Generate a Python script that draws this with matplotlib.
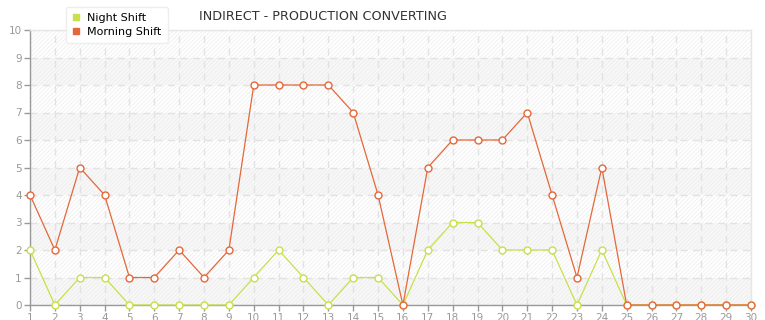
import matplotlib
matplotlib.use("Agg")
import matplotlib.pyplot as plt
from matplotlib.lines import Line2D

days = list(range(1, 31))
night_shift = [2, 0, 1, 1, 0, 0, 0, 0, 0, 1, 2, 1, 0, 1, 1, 0, 2, 3, 3, 2, 2, 2, 0, 2, 0, 0, 0, 0, 0, 0]
morning_shift = [4, 2, 5, 4, 1, 1, 2, 1, 2, 8, 8, 8, 8, 7, 4, 0, 5, 6, 6, 6, 7, 4, 1, 5, 0, 0, 0, 0, 0, 0]
series_names = ["Night Shift", "Morning Shift"]
title = "INDIRECT - PRODUCTION CONVERTING"

night_color = "#c8e04a"
morning_color = "#e4683a"
tick_color = "#999999"

plt.rcParams["hatch.color"] = "#ededed"
plt.rcParams["hatch.linewidth"] = 0.5

fig = plt.figure(figsize=(7.65, 3.2), dpi=100)
ax = fig.add_axes([30 / 765, 15 / 320, (751 - 30) / 765, (305 - 30) / 320])

ax.set_xlim(1, 30)
ax.set_ylim(0, 10)
ax.set_facecolor("white")

for k in range(10):
    fc = "#f7f7f7" if k % 2 == 0 else "white"
    ax.axhspan(k, k + 1, facecolor=fc, edgecolor="#ececec", hatch="////////", linewidth=0, zorder=0)

ax.set_xticks(days)
ax.set_yticks(range(0, 11))
ax.grid(True, color="#e2e2e2", linestyle=(0, (5, 4)), linewidth=1, zorder=1)

ax.plot(days, night_shift, color=night_color, linewidth=0.9, marker="o", markersize=5,
        markerfacecolor="white", markeredgecolor=night_color, markeredgewidth=1, zorder=3, clip_on=False)
ax.plot(days, morning_shift, color=morning_color, linewidth=0.9, marker="o", markersize=5,
        markerfacecolor="white", markeredgecolor=morning_color, markeredgewidth=1, zorder=4, clip_on=False)

for s in ["top", "right"]:
    ax.spines[s].set_color("#e6e6e6")
    ax.spines[s].set_linewidth(1)
for s in ["left", "bottom"]:
    ax.spines[s].set_color("#999999")
    ax.spines[s].set_linewidth(1)

ax.tick_params(axis="both", colors="#999999", labelcolor=tick_color, labelsize=7.5, length=4, width=1)
ax.tick_params(axis="x", pad=2)
ax.tick_params(axis="y", pad=2)

handles = [Line2D([], [], color=night_color, marker="s", linestyle="none", markersize=4),
           Line2D([], [], color=morning_color, marker="s", linestyle="none", markersize=4)]
leg = fig.legend(handles, series_names, loc="upper left", bbox_to_anchor=(60 / 765, 1 - 1 / 320),
                 frameon=True, fontsize=8, handlelength=0.8, handletextpad=0.6,
                 borderpad=0.55, labelspacing=0.35, fancybox=True, framealpha=1,
                 edgecolor="#eeeeee", facecolor="white", shadow=False)
leg.set_zorder(10)

fig.text(323 / 765, 1 - 17 / 320, title, ha="center", va="center", fontsize=9.2, color="#333333")

fig.savefig("out.png", dpi=100)
